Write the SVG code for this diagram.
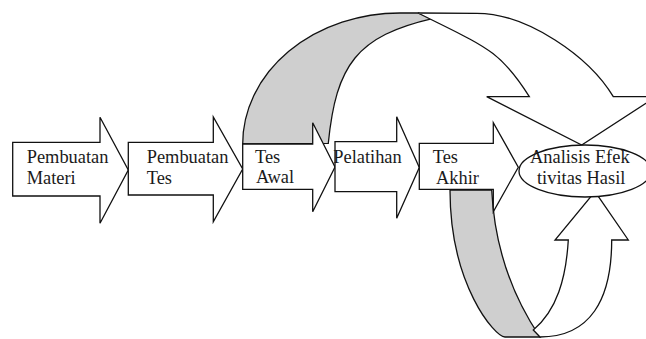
<svg xmlns="http://www.w3.org/2000/svg" width="646" height="339" viewBox="0 0 646 339">
<style>
.s{stroke:#111;stroke-width:1.3;stroke-linejoin:miter}
.w{fill:#fff}
.g{fill:#cfcfcf}
text{font-family:"Liberation Serif","Times New Roman",serif;font-size:18.4px;fill:#1a1a1a}
</style>
<rect width="646" height="339" fill="#fff"/>
<g id="connectors">
  <g id="loop-top">
    <path class="s g" d="M242.7,144 A157.3,131 0 0 1 400,13 L418,13 L433.3,18.3 C356.7,35.9 336.1,64.9 328.3,143.3 Z"/>
    <path class="s w" d="M418,13 L476.7,13.3 C527.4,13.3 589.3,56.7 613.3,96.7 L656,96.7 L581.7,145 L486.7,96.7 L529.3,96.7 C499.8,49.9 485.8,46.9 418,13 Z"/>
  </g>
  <g id="loop-bottom">
    <path class="s g" d="M450,190 C450,285 495,337 505,337 L540,337 C515,300 494.7,250 491.7,190 Z"/>
    <path class="s w" d="M540,337 C590,337 611.7,300 611.7,240 L628.3,240 L595,191.7 L555,240 L568.3,240 C566,278.6 556.9,310.1 533.3,330 L540,337 Z"/>
  </g>
</g>
<g id="n1">
  <polygon class="s w" points="12.7,142.3 100,142.3 100,117.3 128.3,170 100,223.3 100,196 12.7,196"/>
  <text x="26.7" y="163.3">Pembuatan</text>
  <text x="26.7" y="184">Materi</text>
</g>
<g id="n2">
  <polygon class="s w" points="128.3,142.3 213.3,142.3 213.3,117 242.7,169 213.3,221.7 213.3,195 128.3,195"/>
  <text x="146.7" y="163.3">Pembuatan</text>
  <text x="146.7" y="184">Tes</text>
</g>
<g id="n3">
  <polygon class="s w" points="242.7,144 312.7,144 312.7,122.7 335,167 312.7,211.7 312.7,189.3 242.7,189.3"/>
  <text x="255" y="162.7">Tes</text>
  <text x="256" y="183.3">Awal</text>
</g>
<g id="n4">
  <polygon class="s w" points="335,141.7 396.7,141.7 396.7,116.7 419.3,167.5 396.7,218.3 396.7,191.7 335,191.7"/>
  <text x="333.3" y="162.7">Pelatihan</text>
</g>
<g id="n5">
  <polygon class="s w" points="419.3,143.3 493.3,143.3 493.3,122.7 518.3,167.2 493.3,211.7 493.3,189.3 419.3,189.3"/>
  <text x="432.7" y="163.3">Tes</text>
  <text x="436" y="184">Akhir</text>
</g>
<g id="n6">
  <ellipse class="s w" cx="585" cy="171" rx="66" ry="26"/>
  <text x="530" y="163.3">Analisis Efek</text>
  <text x="537" y="184">tivitas Hasil</text>
</g>
</svg>
